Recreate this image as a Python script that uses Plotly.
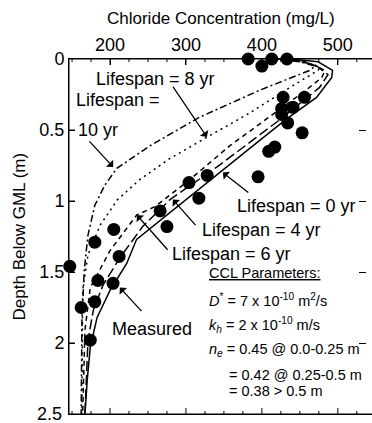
import plotly.graph_objects as go

# ---- data (concentration mg/L, depth m) ----
meas_conc = [382, 400, 413, 433, 428, 456, 441, 426, 426, 434, 453, 409, 417, 395,
             328, 304, 317, 266, 275, 205, 180, 212, 147, 184, 204, 180, 162, 174]
meas_depth = [0.0, 0.05, 0.0, 0.0, 0.27, 0.27, 0.34, 0.35, 0.39, 0.45, 0.52, 0.65, 0.62, 0.83,
              0.82, 0.87, 0.98, 1.07, 1.18, 1.20, 1.29, 1.39, 1.46, 1.56, 1.58, 1.71, 1.75, 1.98]

ls0_conc = [437, 474, 493, 492, 472, 433, 384, 349, 288, 235, 222, 200, 183, 174, 170, 167]
ls0_depth = [0.0, 0.02, 0.08, 0.13, 0.27, 0.42, 0.63, 0.78, 1.04, 1.27, 1.44, 1.63, 1.82, 2.03, 2.26, 2.5]

ls4_conc = [434, 470, 487, 476, 428, 384, 341, 279, 243, 213, 191, 178, 171, 167]
ls4_depth = [0.0, 0.04, 0.11, 0.2, 0.41, 0.59, 0.76, 0.99, 1.18, 1.40, 1.59, 1.77, 1.98, 2.5]

ls6_conc = [430, 463, 483, 479, 458, 410, 358, 305, 259, 235, 200, 174, 167, 164]
ls6_depth = [0.0, 0.03, 0.08, 0.13, 0.22, 0.41, 0.61, 0.85, 1.04, 1.10, 1.35, 1.61, 1.91, 2.5]

ls8_conc = [424, 457, 476, 474, 437, 384, 328, 279, 239, 210, 187, 171, 164, 163]
ls8_depth = [0.0, 0.02, 0.06, 0.08, 0.2, 0.38, 0.55, 0.70, 0.85, 0.99, 1.17, 1.38, 1.63, 2.5]

ls10_conc = [421, 450, 470, 463, 397, 318, 253, 209, 193, 180, 171, 166, 163, 162]
ls10_depth = [0.0, 0.02, 0.05, 0.08, 0.22, 0.41, 0.61, 0.77, 0.89, 1.03, 1.24, 1.49, 1.84, 2.5]

x_ticks = [200, 300, 400, 500]
x_minor_ticks = [150, 175, 225, 250, 275, 325, 350, 375, 425, 450, 475, 525]
y_ticks = [0, 0.5, 1, 1.5, 2, 2.5]
y_ticktext = ["0", "0.5", "1", "1.5", "2", "2.5"]

FONT = "Liberation Sans, Arial, sans-serif"
X_RANGE = [146, 545]
Y_RANGE = [2.5, 0]
PLOT_W, PLOT_H = 303, 355  # plot area size in px

fig = go.Figure()
curves = [
    (ls10_conc, ls10_depth, "7px,3px,2px,3px"),
    (ls8_conc, ls8_depth, "2px,4px"),
    (ls6_conc, ls6_depth, "5px,4px"),
    (ls4_conc, ls4_depth, "10px,4px"),
    (ls0_conc, ls0_depth, "solid"),
]
for cx, cy, dash in curves:
    fig.add_trace(go.Scatter(x=cx, y=cy, mode="lines", line=dict(color="black", width=1.5, dash=dash),
                             showlegend=False, hoverinfo="skip"))
fig.add_trace(go.Scatter(x=meas_conc, y=meas_depth, mode="markers",
                         marker=dict(color="black", size=13), showlegend=False, cliponaxis=False))
# empty trace so that the right-hand ticks are drawn
fig.add_trace(go.Scatter(x=[], y=[], xaxis="x", yaxis="y2", showlegend=False))

fig.update_layout(
    width=372, height=423,
    margin=dict(l=69, r=0, t=59, b=9),
    paper_bgcolor="white", plot_bgcolor="white",
    font=dict(family=FONT, size=18, color="black"),
    xaxis=dict(side="top", range=X_RANGE, tickvals=x_ticks,
               ticks="inside", ticklen=6, tickcolor="black", showline=True, linecolor="black",
               linewidth=1, mirror=True, showgrid=False, zeroline=False),
    yaxis=dict(range=Y_RANGE, tickvals=y_ticks, ticktext=y_ticktext,
               ticks="inside", ticklen=6, tickcolor="black", showline=True, linecolor="black",
               linewidth=1, showgrid=False, zeroline=False),
    yaxis2=dict(overlaying="y", side="right", anchor="free", position=0.98, range=Y_RANGE,
                tickvals=y_ticks[1:-1], ticks="inside", ticklen=7, tickcolor="black",
                showline=False, showticklabels=False, showgrid=False, zeroline=False),
)

# frame lines and tick marks as shapes (placed through the axis scales)
tick_line = dict(color="black", width=1)
fig.add_shape(type="line", xref="paper", yref="paper", x0=0, x1=1, y0=0, y1=0, line=tick_line)
fig.add_shape(type="line", xref="paper", yref="paper", x0=0, x1=1, y0=1, y1=1, line=tick_line)
fig.add_shape(type="line", xref="paper", yref="paper", x0=0, x1=0, y0=0, y1=1, line=tick_line)
for v in x_ticks:
    fig.add_shape(type="line", xref="x", yref="paper", x0=v, x1=v, y0=1, y1=1 - 6 / PLOT_H, line=tick_line)
    fig.add_shape(type="line", xref="x", yref="paper", x0=v, x1=v, y0=0, y1=6 / PLOT_H, line=tick_line)
for v in x_minor_ticks:
    fig.add_shape(type="line", xref="x", yref="paper", x0=v, x1=v, y0=1, y1=1 - 3 / PLOT_H, line=tick_line)
    fig.add_shape(type="line", xref="x", yref="paper", x0=v, x1=v, y0=0, y1=3 / PLOT_H, line=tick_line)
for v in y_ticks[1:-1]:
    fig.add_shape(type="line", xref="paper", yref="y", x0=0, x1=6 / PLOT_W, y0=v, y1=v, line=tick_line)

# bottom tick label
fig.add_annotation(x=-0.017, y=0, xref="paper", yref="paper", text=y_ticktext[-1], showarrow=False,
                   xanchor="right", yanchor="middle", font=dict(size=18, family=FONT, color="black"))

# axis titles as annotations
fig.add_annotation(x=0.502, y=1.115, xref="paper", yref="paper", text="Chloride Concentration (mg/L)",
                   showarrow=False, xanchor="center", yanchor="middle",
                   font=dict(size=17, family=FONT, color="black"))
fig.add_annotation(x=-0.162, y=0.5, xref="paper", yref="paper", text="Depth Below GML (m)",
                   showarrow=False, textangle=-90, xanchor="center", yanchor="middle",
                   font=dict(size=17, family=FONT, color="black"))

# arrows: (tip x, tip y in data, ax, ay px)
arrows = [(327.6, 0.55, -35, -52), (204, 0.76, -25, -27), (348.6, 0.80, 27, 21),
          (282.8, 0.99, 24, 27), (235.5, 1.10, 32, 36), (213, 1.61, 23, 25)]
for x, y, ax, ay in arrows:
    fig.add_annotation(x=x, y=y, xref="x", yref="y", ax=ax, ay=ay, text="", showarrow=True,
                       arrowhead=1, arrowsize=1.3, arrowwidth=1.3, arrowcolor="black")

labels = [
    ("Lifespan = 8 yr", 0.287, 0.944, "center", 18),
    ("Lifespan =", 0.0165, 0.885, "left", 18),
    ("10 yr", 0.022, 0.80, "left", 18),
    ("Lifespan = 0 yr", 0.548, 0.586, "left", 18),
    ("Lifespan = 4 yr", 0.432, 0.518, "left", 18),
    ("Lifespan = 6 yr", 0.333, 0.451, "left", 18),
    ("Measured", 0.135, 0.239, "left", 18),
    ("<u>CCL Parameters:</u>", 0.455, 0.397, "left", 14.5),
    ("<i>D</i><sup>*</sup> = 7 x 10<sup>-10</sup> m<sup>2</sup>/s", 0.455, 0.321, "left", 14.5),
    ("<i>k</i><sub><i>h</i></sub> = 2 x 10<sup>-10</sup> m/s", 0.455, 0.251, "left", 14.5),
    ("<i>n</i><sub><i>e</i></sub> = 0.45 @ 0.0-0.25 m", 0.455, 0.180, "left", 14.5),
    ("= 0.42 @ 0.25-0.5 m", 0.521, 0.110, "left", 14.5),
    ("= 0.38 > 0.5 m", 0.521, 0.065, "left", 14.5),
]
for t, x, y, anc, sz in labels:
    fig.add_annotation(x=x, y=y, xref="paper", yref="paper", text=t, showarrow=False,
                       xanchor=anc, yanchor="middle", font=dict(size=sz, family=FONT, color="black"))

fig.write_html("out.html")
